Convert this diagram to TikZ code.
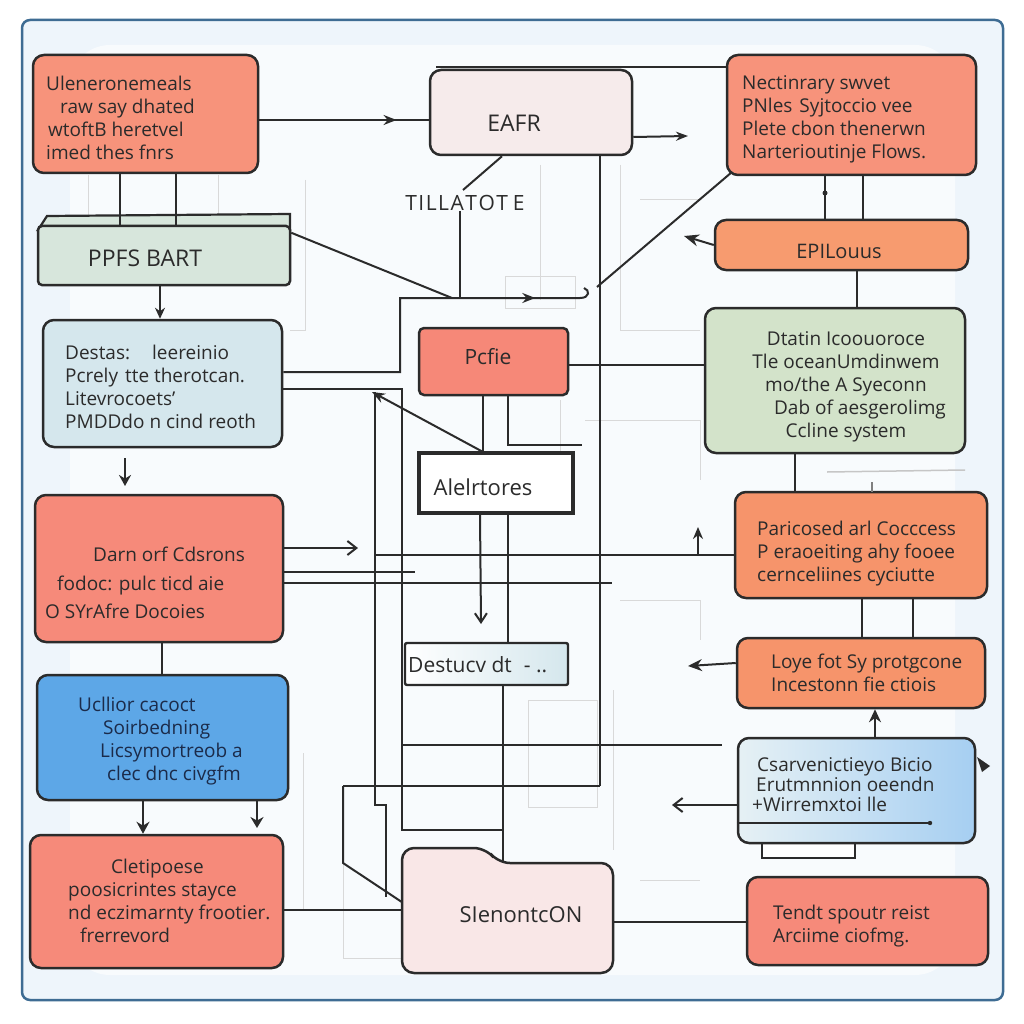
\documentclass[tikz,border=0pt]{standalone}
\usepackage{fontspec}
\setmainfont{Open Sans}
\usetikzlibrary{arrows.meta,decorations.markings}
\definecolor{ink}{HTML}{2B2B2B}
\definecolor{navy}{HTML}{1B2B4A}
\definecolor{framec}{HTML}{3E6C93}
\definecolor{framefill}{HTML}{EEF5FB}
\definecolor{salmonA}{HTML}{F7937B}
\definecolor{salmonB}{HTML}{F68A7A}
\definecolor{salmonC}{HTML}{F68878}
\definecolor{orangeA}{HTML}{F79B6F}
\definecolor{orangeB}{HTML}{F6946B}
\definecolor{greenA}{HTML}{D3E3CA}
\definecolor{greenB}{HTML}{D7E6DC}
\definecolor{lblue}{HTML}{D5E7ED}
\definecolor{blueA}{HTML}{5DA7E7}
\definecolor{pinkw}{HTML}{F6EBEB}
\definecolor{sigfill}{HTML}{F9E7E7}
\begin{document}
\begin{tikzpicture}[x=1pt,y=-1pt,
  box/.style={draw=ink, line width=2.5pt, rounded corners=11pt, inner sep=0pt},
  conn/.style={draw=ink, line width=2pt},
  faint/.style={draw=gray!30, line width=1pt},
  txt/.style={text=ink, font=\fontsize{19}{23}\selectfont, inner sep=0pt, align=left, anchor=west},
  lbl/.style={text=ink, inner sep=0pt},
  midtip/.style={postaction={decorate}, decoration={markings, mark=at position #1 with {\arrow{Stealth[length=13pt,width=10pt]}}}},
]
\useasboundingbox (0,0) rectangle (1023,1024);
\fill[white] (0,0) rectangle (1023,1024);
\draw[draw=framec, line width=2.5pt, fill=framefill, rounded corners=8pt] (22,20) rectangle (1003,1000);
\fill[white, opacity=0.6, rounded corners=40pt] (70,45) rectangle (955,975);

% faint background lines
\draw[faint] (88,175) -- (88,224);
\draw[faint] (218,175) -- (218,224);
\draw[faint] (305,180) -- (305,330) -- (290,330);
\draw[faint] (540,165) -- (540,300);
\draw[faint] (620,165) -- (620,330) -- (700,330);
\draw[faint] (640,200) -- (700,200);
\draw[faint] (505,276) rectangle (575,308);
\draw[faint] (560,400) -- (560,460);
\draw[faint] (585,420) -- (700,420) -- (700,480);
\draw[faint] (620,600) -- (700,600) -- (700,640);
\draw[faint] (528,700) rectangle (597,807);
\draw[faint] (613,690) -- (613,850);
\draw[faint] (343,863) -- (343,958) -- (402,958);
\draw[faint] (303,753) -- (303,910);
\draw[faint] (640,880) -- (700,880);

% ---------- left column ----------
\node[box, fill=salmonA, minimum width=225, minimum height=118] (b1) at (145.5,114) {};
\node[txt] (t1) at (46,118) {Uleneronemeals\\\hspace{14pt}raw say dhated\\\hspace{2pt}wtoftB heretvel\\imed thes fnrs};

\draw[ink, line width=2.2pt, fill=greenB] (38,230) -- (47,216) -- (290,214) -- (290,230) -- cycle;
\node[box, rounded corners=4pt, fill=greenB, minimum width=252, minimum height=59] (b2) at (164,255.5) {};
\node[lbl, font=\fontsize{23}{26}\selectfont] (t2) at (145,258) {PPFS BART};

\node[box, fill=lblue, minimum width=239, minimum height=127] (b3) at (162.5,383.5) {};
\node[txt] (t3) at (65,387) {Destas:\hspace{22pt}leereinio\\Pcrely\hspace{7pt}tte therotcan.\\Litevrocoets'\\PMDDdo n cind reoth};

\node[box, fill=salmonB, minimum width=248, minimum height=147] (b4) at (159,568.5) {};
\node[txt] (t4) at (45,583) {\hspace{48pt}Darn orf Cdsrons\\[6pt]\hspace{12pt}fodoc: pulc ticd aie\\[5pt]O SYrAfre Docoies};

\node[box, fill=blueA, minimum width=251, minimum height=125] (b5) at (162.5,737.5) {};
\node[txt, text=navy] (t5) at (78,741) {Ucllior cacoct\\\hspace{25pt}Soirbedning\\\hspace{22pt}Licsymortreob a\\\hspace{29pt}clec dnc civgfm};

\node[box, fill=salmonB, minimum width=253, minimum height=133] (b6) at (156.5,901.5) {};
\node[txt] (t6) at (68,901) {\hspace{43pt}Cletipoese\\poosicrintes stayce\\nd eczimarnty frootier.\\\hspace{12pt}frerrevord};

% ---------- middle ----------
\node[box, fill=pinkw, minimum width=202, minimum height=85] (eafr) at (531,112.5) {};
\node[lbl, font=\fontsize{23}{26}\selectfont] (teafr) at (514,123) {EAFR};
\node[lbl, font=\fontsize{21}{24}\selectfont] (tl) at (465,203) {T\kern1.5pt I\kern1.5pt L\kern1.5pt L\kern1.5pt A\kern1.5pt T\kern1.5pt O\kern1.5pt T\kern5pt E};

\node[box, rounded corners=5pt, fill=salmonC, minimum width=149, minimum height=67] (pcfie) at (493.5,361.5) {};
\node[lbl, font=\fontsize{21}{24}\selectfont] (tpcfie) at (488,357) {Pcfie};

\node[draw=ink, line width=3.2pt, fill=white, minimum width=154, minimum height=60, inner sep=0pt] (alel) at (496,483) {};
\node[lbl, font=\fontsize{22}{24}\selectfont] (talel) at (483,487) {Alelrtores};

\node[draw=ink, line width=2.4pt, rounded corners=2pt, left color=white, right color=lblue, minimum width=163, minimum height=42, inner sep=0pt] (destucy) at (486.5,664) {};
\node[lbl, anchor=west, font=\fontsize{21}{24}\selectfont] (tdest) at (408,665) {Destucv dt\hspace{12pt}- ..};

\draw[ink, line width=2.5pt, fill=sigfill, rounded corners=12pt] (402,973) -- (402,848) -- (486,848) -- (498,863) -- (613,863) -- (613,973) -- cycle;
\node[minimum width=211, minimum height=110, inner sep=0pt] (sig) at (507.5,918) {};
\node[lbl, font=\fontsize{22}{24}\selectfont] (tsig) at (521,915) {SIenontcON};

% ---------- right column ----------
\node[box, fill=salmonA, minimum width=249, minimum height=120] (b13) at (851.5,115) {};
\node[txt] (t13) at (742,119) {Nectinrary swvet\\PNles\hspace{7pt}Syjtoccio vee\\Plete cbon thenerwn\\Narterioutinje Flows.};

\node[box, fill=orangeA, minimum width=253, minimum height=50] (b14) at (841.5,245) {};
\node[lbl, font=\fontsize{20}{22}\selectfont] (t14) at (839,251) {EPILouus};

\node[box, fill=greenA, minimum width=260, minimum height=145] (b15) at (835,380.5) {};
\node[txt, align=center, anchor=center] (t15) at (846,387) {Dtatin Icoouoroce\\Tle oceanUmdinwem\\mo/the A Syeconn\\\hspace{28pt}Dab of aesgerolimg\\Ccline system};

\node[box, fill=orangeB, minimum width=252, minimum height=106] (b16) at (861,545) {};
\node[txt] (t16) at (757,554) {Paricosed arl Cocccess\\P eraoeiting ahy fooee\\cernceliines cyciutte};

\node[box, fill=orangeB, minimum width=248, minimum height=70] (b17) at (861,673) {};
\node[txt] (t17) at (771,673) {Loye fot Sy protgcone\\Incestonn fie ctiois};

\draw[ink, line width=2.2pt, fill=white] (762,834) rectangle (855,858);
\node[box, left color=lblue!60!white, right color=blueA!55!white, minimum width=237, minimum height=105] (b18) at (856.5,790.5) {};
\node[txt, font=\fontsize{19}{20}\selectfont] (t18) at (752,785) {\hspace{5pt}Csarvenictieyo Bicio\\\hspace{4pt}Erutmnnion oeendn\\+Wirremxtoi lle};

\node[box, fill=salmonB, minimum width=241, minimum height=88] (b19) at (867.5,921) {};
\node[txt] (t19) at (773,926) {Tendt spoutr reist\\Arciime ciofmg.};

% ---------- connectors: left ----------
\draw[conn] (b1.south -| 120,0) -- (b2.north -| 120,0);
\draw[conn] (b1.south -| 176,0) -- (b2.north -| 176,0);
\draw[conn, -{Stealth[length=11pt,width=10pt]}] (b2.south -| 160,0) -- (b3.north -| 160,0);
\coordinate (a3s) at (125,458);
\coordinate (a3e) at (125,486);
\draw[conn, -{Stealth[length=11pt,width=12pt]}] (a3s) -- (a3e);
\draw[conn] (b4.south -| 162,0) -- (b5.north -| 162,0);
\draw[conn, -{Stealth[length=12pt,width=13pt]}] (b5.south -| 143,0) -- (b6.north -| 143,0);
\coordinate (a5e) at (257,828);
\draw[conn, -{Stealth[length=11pt,width=13pt]}] (b5.south -| 257,0) -- (a5e);

% ---------- connectors: top / middle ----------
\draw[conn, midtip=0.81] (b1.east |- 0,120) -- (eafr.west |- 0,120);
\coordinate (eaR) at (688,136);
\draw[conn, -{Stealth[length=12pt,width=9pt]}] (eafr.east |- 0,137) -- (eaR);
\coordinate (topL) at (436,67);
\draw[conn] (topL) -- (b13.west |- 0,67);
\coordinate (tlTop) at (463,190);
\draw[conn] (eafr.south -| 502,0) -- (tlTop);
\coordinate (j1) at (460,298);
\draw[conn] (tl.south -| 460,0) -- (j1);
\coordinate (j2) at (452,298);
\draw[conn] (b2.north east) ++(0,8) -- (j2);
\coordinate (curl) at (584,288);
\draw[conn, midtip=0.84] (b3.east |- 0,372) -- (400,372) -- (400,298) -- (580,298) .. controls (590,298) and (590,290) .. (curl);
\draw[conn] (b3.east |- 0,389) -- (402,389) -- (402,830) -- (503,830);
\draw[conn] (375,392) -- (375,805) -- (386,805) -- (386,897);
\coordinate (alTip) at (372,392);
\draw[conn, -{Stealth[length=13pt,width=10pt]}] (alel.north -| 482,0) -- (alTip);
\draw[conn] (pcfie.east |- 0,365) -- (b15.west |- 0,365);
\draw[conn] (pcfie.south -| 483,0) -- (alel.north -| 483,0);
\draw[conn] (pcfie.south -| 508,0) -- (508,445) -- (582,445);
\coordinate (alDown) at (481,624);
\draw[conn, -{Straight Barb[length=9pt,width=12pt]}] (alel.south -| 480,0) -- (alDown);
\draw[conn] (alel.south -| 508,0) -- (destucy.north -| 508,0);
\coordinate (b4tip) at (358,548);
\draw[conn, -{Straight Barb[length=9pt,width=14pt]}] (b4.east |- 0,548) -- (b4tip);
\draw[conn] (375,555) -- (b16.west |- 0,555);
\coordinate (upTip) at (698,527);
\draw[conn, -{Stealth[length=12pt,width=10pt]}] (698,555) -- (upTip);
\draw[conn] (b4.east |- 0,572) -- (415,572);
\draw[conn] (b4.east |- 0,583) -- (612,583);
\draw[conn] (eafr.south -| 600,0) -- (600,786);
\draw[conn] (402,745) -- (722,745);
\draw[conn] (343,786) -- (600,786);
\draw[conn] (343,786) -- (343,863) -- (sig.west |- 0,902);
\draw[conn] (b6.east |- 0,910) -- (sig.west |- 0,910);
\draw[conn] (sig.east |- 0,922) -- (b19.west |- 0,922);
\draw[conn] (destucy.south -| 503,0) -- (sig.north -| 503,0);

% ---------- connectors: right ----------
\draw[conn] (b13.south -| 825,0) -- (b14.north -| 825,0);
\fill[ink] (825,193) circle (2.5);
\draw[conn] (b13.south -| 863,0) -- (b14.north -| 863,0);
\coordinate (dgA) at (732,172);
\coordinate (dgB) at (597,287);
\draw[conn] (dgA) -- (dgB);
\coordinate (b14tip) at (684,236);
\draw[conn, -{Stealth[length=15pt,width=12pt]}] (b14.west) -- (b14tip);
\draw[conn] (b14.south -| 857,0) -- (b15.north -| 857,0);
\draw[conn] (b15.south -| 795,0) -- (b16.north -| 795,0);
\draw[faint, line width=1.5pt, gray!45] (827,472) -- (965,470);
\draw[conn, line width=1.2pt, gray] (872,482) -- (872,492);
\draw[conn] (b16.south -| 862,0) -- (b17.north -| 862,0);
\draw[conn] (b16.south -| 913,0) -- (b17.north -| 913,0);
\coordinate (b17tip) at (688,666);
\draw[conn, -{Stealth[length=14pt,width=12pt]}] (b17.west |- 0,663) -- (b17tip);
\draw[conn, -{Stealth[length=13pt,width=12pt]}] (b18.north -| 875,0) -- (b17.south -| 875,0);
\coordinate (b18tip) at (672,805);
\draw[conn, -{Straight Barb[length=9pt,width=14pt]}] (b18.west |- 0,805) -- (b18tip);
\draw[conn, line width=1.6pt] (b18.west |- 0,823) -- (930,823);
\fill[ink] (930,823) circle (2.2);
\fill[ink] (977,757) -- (990,766) -- (982,772) -- cycle;
\end{tikzpicture}
\end{document}
